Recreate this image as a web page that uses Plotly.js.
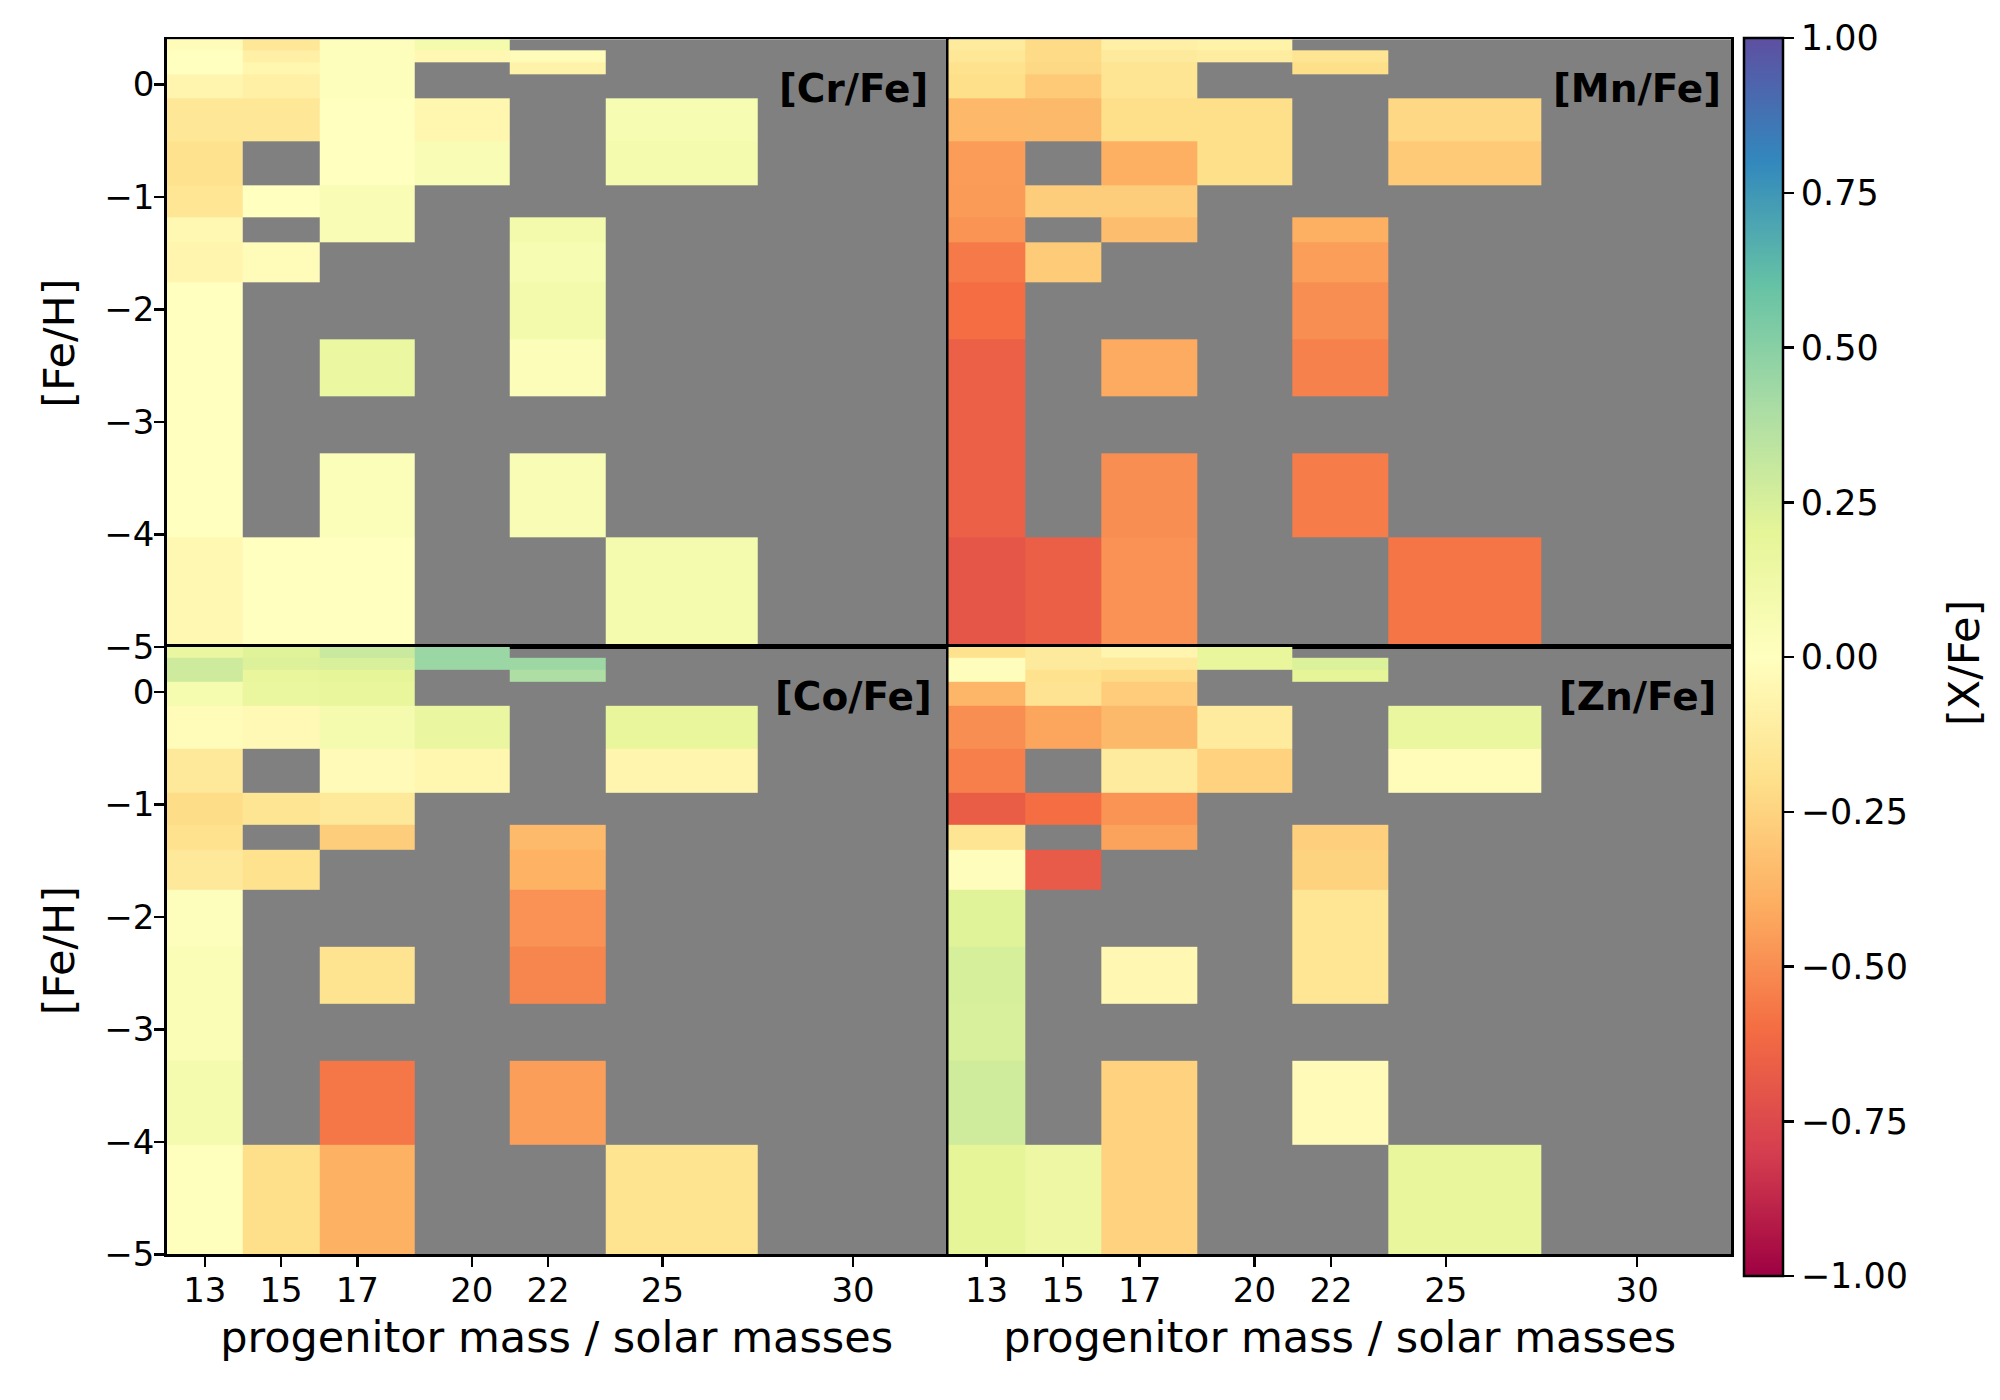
<!DOCTYPE html>
<html>
<head>
<meta charset="utf-8">
<script src="https://cdn.plot.ly/plotly-3.0.1.min.js"></script>
<style>html,body{margin:0;padding:0;background:#fff;}#chart{width:2000px;height:1400px;}</style>
</head>
<body>
<div id="chart"></div>
<script>
// progenitor masses (tick labels) and cell edges
const masses = [13, 15, 17, 20, 22, 25, 30];
const massEdges = [12, 14, 16, 18.5, 21, 23.5, 27.5, 32.5];
// [Fe/H] cell edges, bottom to top
const fehEdges = [-5.0, -4.03, -3.28, -2.77, -2.27, -1.76, -1.40, -1.18, -0.90, -0.51, -0.12, 0.09, 0.20, 0.305, 0.40];

// rows listed from top ([Fe/H] high) to bottom; columns follow `masses`
const crFe = [
  [-0.02, -0.15, 0.02, 0.09, null, null, null],
  [0.00, -0.10, 0.02, -0.05, -0.02, null, null],
  [0.00, -0.06, 0.02, null, -0.08, null, null],
  [-0.065, -0.10, 0.02, null, null, null, null],
  [-0.155, -0.15, 0.00, -0.06, null, 0.07, null],
  [-0.19, null, 0.00, 0.056, null, 0.088, null],
  [-0.16, 0.00, 0.056, null, null, null, null],
  [-0.045, null, 0.056, null, 0.096, null, null],
  [-0.065, -0.02, null, null, 0.064, null, null],
  [0.00, null, null, null, 0.096, null, null],
  [0.00, null, 0.152, null, 0.032, null, null],
  [0.00, null, null, null, null, null, null],
  [0.00, null, 0.03, null, 0.056, null, null],
  [-0.045, 0.00, 0.00, null, null, 0.088, null]
];
const mnFe = [
  [-0.13, -0.22, -0.10, -0.084, null, null, null],
  [-0.155, -0.22, -0.135, -0.116, -0.168, null, null],
  [-0.19, -0.23, -0.168, null, -0.20, null, null],
  [-0.204, -0.29, -0.168, null, null, null, null],
  [-0.36, -0.356, -0.204, -0.204, null, -0.232, null],
  [-0.455, null, -0.396, -0.204, null, -0.29, null],
  [-0.46, -0.276, -0.276, null, null, null, null],
  [-0.48, null, -0.34, null, -0.397, null, null],
  [-0.56, -0.284, null, null, -0.45, null, null],
  [-0.60, null, null, null, -0.50, null, null],
  [-0.655, null, -0.41, null, -0.54, null, null],
  [-0.655, null, null, null, null, null, null],
  [-0.655, null, -0.50, null, -0.55, null, null],
  [-0.70, -0.66, -0.485, null, null, -0.575, null]
];
const coFe = [
  [0.16, 0.22, 0.30, 0.446, null, null, null],
  [0.28, 0.23, 0.247, 0.446, 0.44, null, null],
  [0.28, 0.18, 0.20, null, 0.39, null, null],
  [0.08, 0.17, 0.18, null, null, null, null],
  [-0.025, -0.04, 0.088, 0.16, null, 0.18, null],
  [-0.14, null, -0.03, -0.058, null, -0.065, null],
  [-0.214, -0.168, -0.148, null, null, null, null],
  [-0.19, null, -0.276, null, -0.353, null, null],
  [-0.14, -0.187, null, null, -0.385, null, null],
  [0.02, null, null, null, -0.485, null, null],
  [0.048, null, -0.18, null, -0.525, null, null],
  [0.05, null, null, null, null, null, null],
  [0.088, null, -0.57, null, -0.45, null, null],
  [0.01, -0.20, -0.39, null, null, -0.18, null]
];
const znFe = [
  [-0.187, -0.135, -0.065, 0.18, null, null, null],
  [-0.013, -0.135, -0.142, 0.18, 0.237, null, null],
  [-0.013, -0.187, -0.219, null, 0.20, null, null],
  [-0.372, -0.174, -0.28, null, null, null, null],
  [-0.50, -0.428, -0.356, -0.13, null, 0.17, null],
  [-0.545, null, -0.13, -0.256, null, -0.02, null],
  [-0.67, -0.60, -0.48, null, null, null, null],
  [-0.168, null, -0.434, null, -0.264, null, null],
  [-0.013, -0.676, null, null, -0.252, null, null],
  [0.217, null, null, null, -0.16, null, null],
  [0.254, null, -0.05, null, -0.16, null, null],
  [0.247, null, null, null, null, null, null],
  [0.278, null, -0.256, null, -0.032, null, null],
  [0.20, 0.136, -0.256, null, null, 0.18, null]
];
const panelLabels = ['[Cr/Fe]', '[Mn/Fe]', '[Co/Fe]', '[Zn/Fe]'];
const fehTicks = [0, -1, -2, -3, -4, -5];

const spectral = [
  [0.0, '#9e0142'], [0.1, '#d53e4f'], [0.2, '#f46d43'], [0.3, '#fdae61'],
  [0.4, '#fee08b'], [0.5, '#ffffbf'], [0.6, '#e6f598'], [0.7, '#abdda4'],
  [0.8, '#66c2a5'], [0.9, '#3288bd'], [1.0, '#5e4fa2']
];

const FONT = 'DejaVu Sans, Liberation Sans, sans-serif';
const panels = [crFe, mnFe, coFe, znFe];
const axisIds = [['x', 'y'], ['x2', 'y2'], ['x3', 'y3'], ['x4', 'y4']];

const traces = panels.map((rows, i) => ({
  type: 'heatmap',
  x: massEdges,
  y: fehEdges,
  z: rows.slice().reverse(),
  xaxis: axisIds[i][0],
  yaxis: axisIds[i][1],
  colorscale: spectral,
  zmin: -1, zmax: 1,
  zsmooth: false,
  hoverinfo: 'skip',
  showscale: i === 0,
  colorbar: i === 0 ? {
    x: 1743.6 / 2000, xanchor: 'left', xref: 'paper',
    y: 1 - 657 / 1400, yanchor: 'middle', yref: 'paper',
    len: (1276 - 38) / 1400, lenmode: 'fraction',
    thickness: 39, thicknessmode: 'pixels',
    xpad: 0, ypad: 0,
    outlinewidth: 2.5, outlinecolor: '#000',
    ticks: 'outside', ticklen: 10, tickwidth: 2.5, tickcolor: '#000',
    tickmode: 'linear', tick0: -1, dtick: 0.25, tickformat: '.2f',
    tickfont: {family: FONT, size: 35, color: '#000'},
    title: {text: ''}
  } : undefined
}));

const leftDom = [166.7 / 2000, 946.5 / 2000];
const rightDom = [948.3 / 2000, 1731 / 2000];
const topDom = [1 - 646.8 / 1400, 1 - 39.3 / 1400];
const botDom = [1 - 1254.3 / 1400, 1 - 646.8 / 1400];

function xax(dom, anchor, labels) {
  return {
    domain: dom, anchor: anchor, range: [12, 32.45],
    tickmode: 'array', tickvals: masses, ticktext: masses.map(String),
    showticklabels: labels, ticks: labels ? 'outside' : '', ticklen: 10, tickwidth: 2.5, tickcolor: '#000',
    ticklabelstandoff: -6,
    tickfont: {family: FONT, size: 34, color: '#000'},
    showline: true, mirror: true, linecolor: '#000', linewidth: 2.5,
    showgrid: false, zeroline: false, automargin: false,
    title: labels ? {text: 'progenitor mass / solar masses', font: {family: FONT, size: 43, color: '#000'}, standoff: 14} : {text: ''}
  };
}
function yax(dom, anchor, labels) {
  return {
    domain: dom, anchor: anchor, range: [-5, 0.40],
    tickmode: 'array', tickvals: fehTicks,
    showticklabels: labels, ticks: labels ? 'outside' : '', ticklen: 10, tickwidth: 2.5, tickcolor: '#000',
    ticklabelstandoff: -7,
    tickfont: {family: FONT, size: 34, color: '#000'},
    showline: true, mirror: true, linecolor: '#000', linewidth: 2.5,
    showgrid: false, zeroline: false, automargin: false,
    title: labels ? {text: '[Fe/H]', font: {family: FONT, size: 43, color: '#000'}, standoff: 16} : {text: ''}
  };
}

const annotations = panelLabels.map((t, i) => ({
  text: t, xref: axisIds[i][0], yref: axisIds[i][1], x: 30, y: -0.04,
  xanchor: 'center', yanchor: 'middle', showarrow: false,
  font: {family: FONT, size: 39, color: '#000', weight: 'bold'}
}));
annotations.push({
  text: '[X/Fe]', xref: 'paper', yref: 'paper', x: 1964 / 2000, y: 1 - 663 / 1400,
  xanchor: 'center', yanchor: 'middle', textangle: -90, showarrow: false,
  font: {family: FONT, size: 43, color: '#000'}
});

const layout = {
  width: 2000, height: 1400,
  margin: {l: 0, r: 0, t: 0, b: 0},
  paper_bgcolor: '#ffffff', plot_bgcolor: '#808080',
  showlegend: false,
  font: {family: FONT, color: '#000'},
  xaxis: xax(leftDom, 'y', false),
  yaxis: yax(topDom, 'x', true),
  xaxis2: xax(rightDom, 'y2', false),
  yaxis2: yax(topDom, 'x2', false),
  xaxis3: xax(leftDom, 'y3', true),
  yaxis3: yax(botDom, 'x3', true),
  xaxis4: xax(rightDom, 'y4', true),
  yaxis4: yax(botDom, 'x4', false),
  annotations: annotations
};

Plotly.newPlot('chart', traces, layout, {staticPlot: true, displayModeBar: false});
</script>
</body>
</html>
